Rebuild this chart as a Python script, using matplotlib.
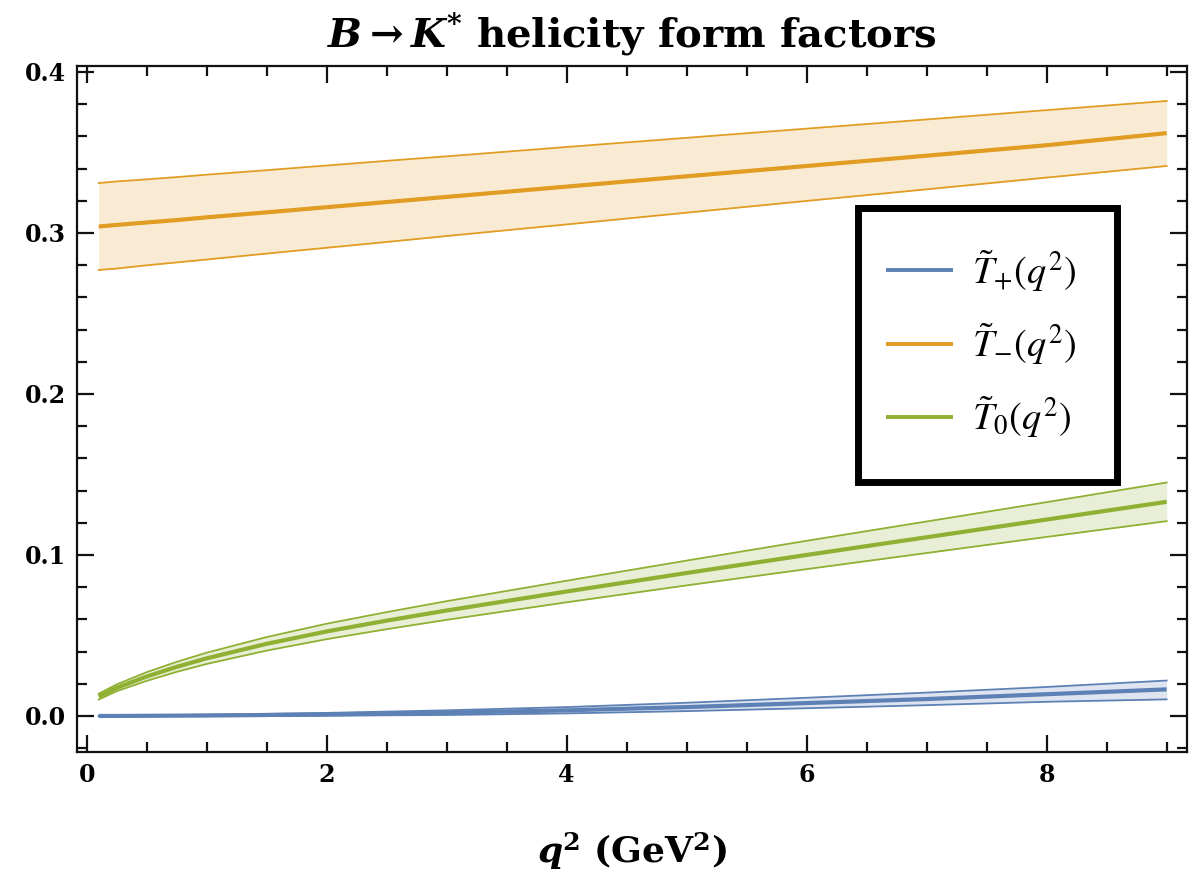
import numpy as np
import matplotlib
matplotlib.use("Agg")
import matplotlib.pyplot as plt
import matplotlib.ticker as ticker
from matplotlib.patches import Rectangle

#---------------
# DATA
#---------------
# q^2 grid (GeV^2)
q2 = [0.1, 0.25, 0.5, 0.75, 1, 1.5, 2, 2.5, 3, 4, 5, 6, 7, 8, 9]

# T+ : central value, upper and lower edge of the band
tplus     = [0.0, 0.0, 0.0001, 0.0002, 0.0003, 0.0006, 0.001, 0.0015, 0.002, 0.0035, 0.0055, 0.008, 0.0105, 0.0135, 0.0165]
tplus_up  = [0.0002, 0.0003, 0.0004, 0.0006, 0.0008, 0.0013, 0.0019, 0.0027, 0.0035, 0.0055, 0.0082, 0.0113, 0.0145, 0.018, 0.022]
tplus_lo  = [-0.0002, -0.0002, -0.0002, -0.0002, -0.0002, -0.0001, 0.0001, 0.0004, 0.0006, 0.0016, 0.003, 0.0048, 0.0067, 0.0088, 0.0103]

# T-
tminus    = [0.304, 0.305, 0.3065, 0.308, 0.3097, 0.3128, 0.316, 0.3192, 0.3224, 0.3288, 0.3352, 0.3416, 0.348, 0.3545, 0.362]
tminus_up = [0.331, 0.332, 0.3333, 0.3347, 0.3362, 0.339, 0.3419, 0.3448, 0.3476, 0.3534, 0.3591, 0.3648, 0.3705, 0.3763, 0.382]
tminus_lo = [0.277, 0.2779, 0.2799, 0.2817, 0.2835, 0.2872, 0.2908, 0.2944, 0.2981, 0.3053, 0.3126, 0.3199, 0.3271, 0.3344, 0.3416]

# T0
tzero     = [0.012, 0.0175, 0.0245, 0.0305, 0.0358, 0.0448, 0.0525, 0.0592, 0.0655, 0.0773, 0.0888, 0.1000, 0.1110, 0.1220, 0.133]
tzero_up  = [0.0138, 0.0196, 0.0272, 0.0336, 0.0393, 0.0490, 0.0573, 0.0645, 0.0713, 0.0840, 0.0965, 0.1088, 0.1208, 0.1328, 0.1450]
tzero_lo  = [0.0102, 0.0154, 0.0218, 0.0274, 0.0323, 0.0406, 0.0477, 0.0539, 0.0597, 0.0706, 0.0811, 0.0912, 0.1012, 0.1112, 0.1210]

labels = [r"$\tilde{T}_{+}(q^2)$", r"$\tilde{T}_{-}(q^2)$", r"$\tilde{T}_{0}(q^2)$"]
colors = ["#5E81B5", "#E19C24", "#8FB032"]

#---------------
# STYLE
#---------------
plt.rcParams['font.family'] = ['DejaVu Serif']
plt.rcParams['mathtext.fontset'] = 'stix'

#---------------
# PLOT
#---------------
fig = plt.figure(figsize=(12.01, 8.72), dpi=100)
ax = fig.add_axes([0.0639, 0.1376, 0.9242, 0.7867])

bands = [(tplus, tplus_up, tplus_lo), (tminus, tminus_up, tminus_lo), (tzero, tzero_up, tzero_lo)]
for (mid, up, lo), col, lab in zip(bands, colors, labels):
    ax.fill_between(q2, lo, up, color=col, alpha=0.2, lw=0)
    ax.plot(q2, up, color=col, lw=1.3)
    ax.plot(q2, lo, color=col, lw=1.3)
    ax.plot(q2, mid, color=col, lw=3.0, label=lab, solid_capstyle='butt')

ax.set_xlim(-0.083, 9.167)
ax.set_ylim(-0.0224, 0.4037)

# Tick location and format
ax.xaxis.set_major_locator(ticker.MultipleLocator(2))
ax.xaxis.set_minor_locator(ticker.MultipleLocator(0.5))
ax.yaxis.set_major_locator(ticker.MultipleLocator(0.1))
ax.yaxis.set_minor_locator(ticker.MultipleLocator(0.02))
ax.xaxis.set_major_formatter(ticker.FormatStrFormatter('%d'))
ax.yaxis.set_major_formatter(ticker.FormatStrFormatter('%.1f'))
ax.tick_params(which='both', direction='in', top=True, right=True, width=1.6, color='#111111')
ax.tick_params(which='major', length=12)
ax.tick_params(which='minor', length=7)
ax.tick_params(axis='both', labelsize=17, pad=8)
for lbl in ax.get_xticklabels() + ax.get_yticklabels():
    lbl.set_fontweight('bold')
for sp in ax.spines.values():
    sp.set_linewidth(1.6)
    sp.set_color('#111111')

ax.set_title(r"$\mathbfit{B}\mathbf{\rightarrow}\mathbfit{K}^{\mathbf{*}}$ helicity form factors",
             fontsize=29, fontweight='bold', math_fontfamily='dejavuserif', y=1.0, pad=14)
ax.set_xlabel(r"$\mathbfit{q}^{\mathbf{2}}$ (GeV$^{\mathbf{2}}$)", fontsize=26, fontweight='bold',
              math_fontfamily='dejavuserif', labelpad=31)

# legend box drawn separately with a heavy black frame
box = Rectangle((0.7043, 0.3943), 0.2325, 0.398, transform=ax.transAxes, fill=True,
                facecolor='white', edgecolor='black', lw=5, joinstyle='miter', zorder=5)
ax.add_patch(box)
leg = ax.legend(loc='upper left', bbox_to_anchor=(0.7291, 0.7347), fontsize=27.5, frameon=False,
                handlelength=1.76, handletextpad=0.5, labelspacing=0.72,
                borderpad=0, borderaxespad=0)
leg.set_zorder(6)
for h in leg.get_lines():
    h.set_linewidth(2.8)

plt.savefig("out.png", dpi=100)
